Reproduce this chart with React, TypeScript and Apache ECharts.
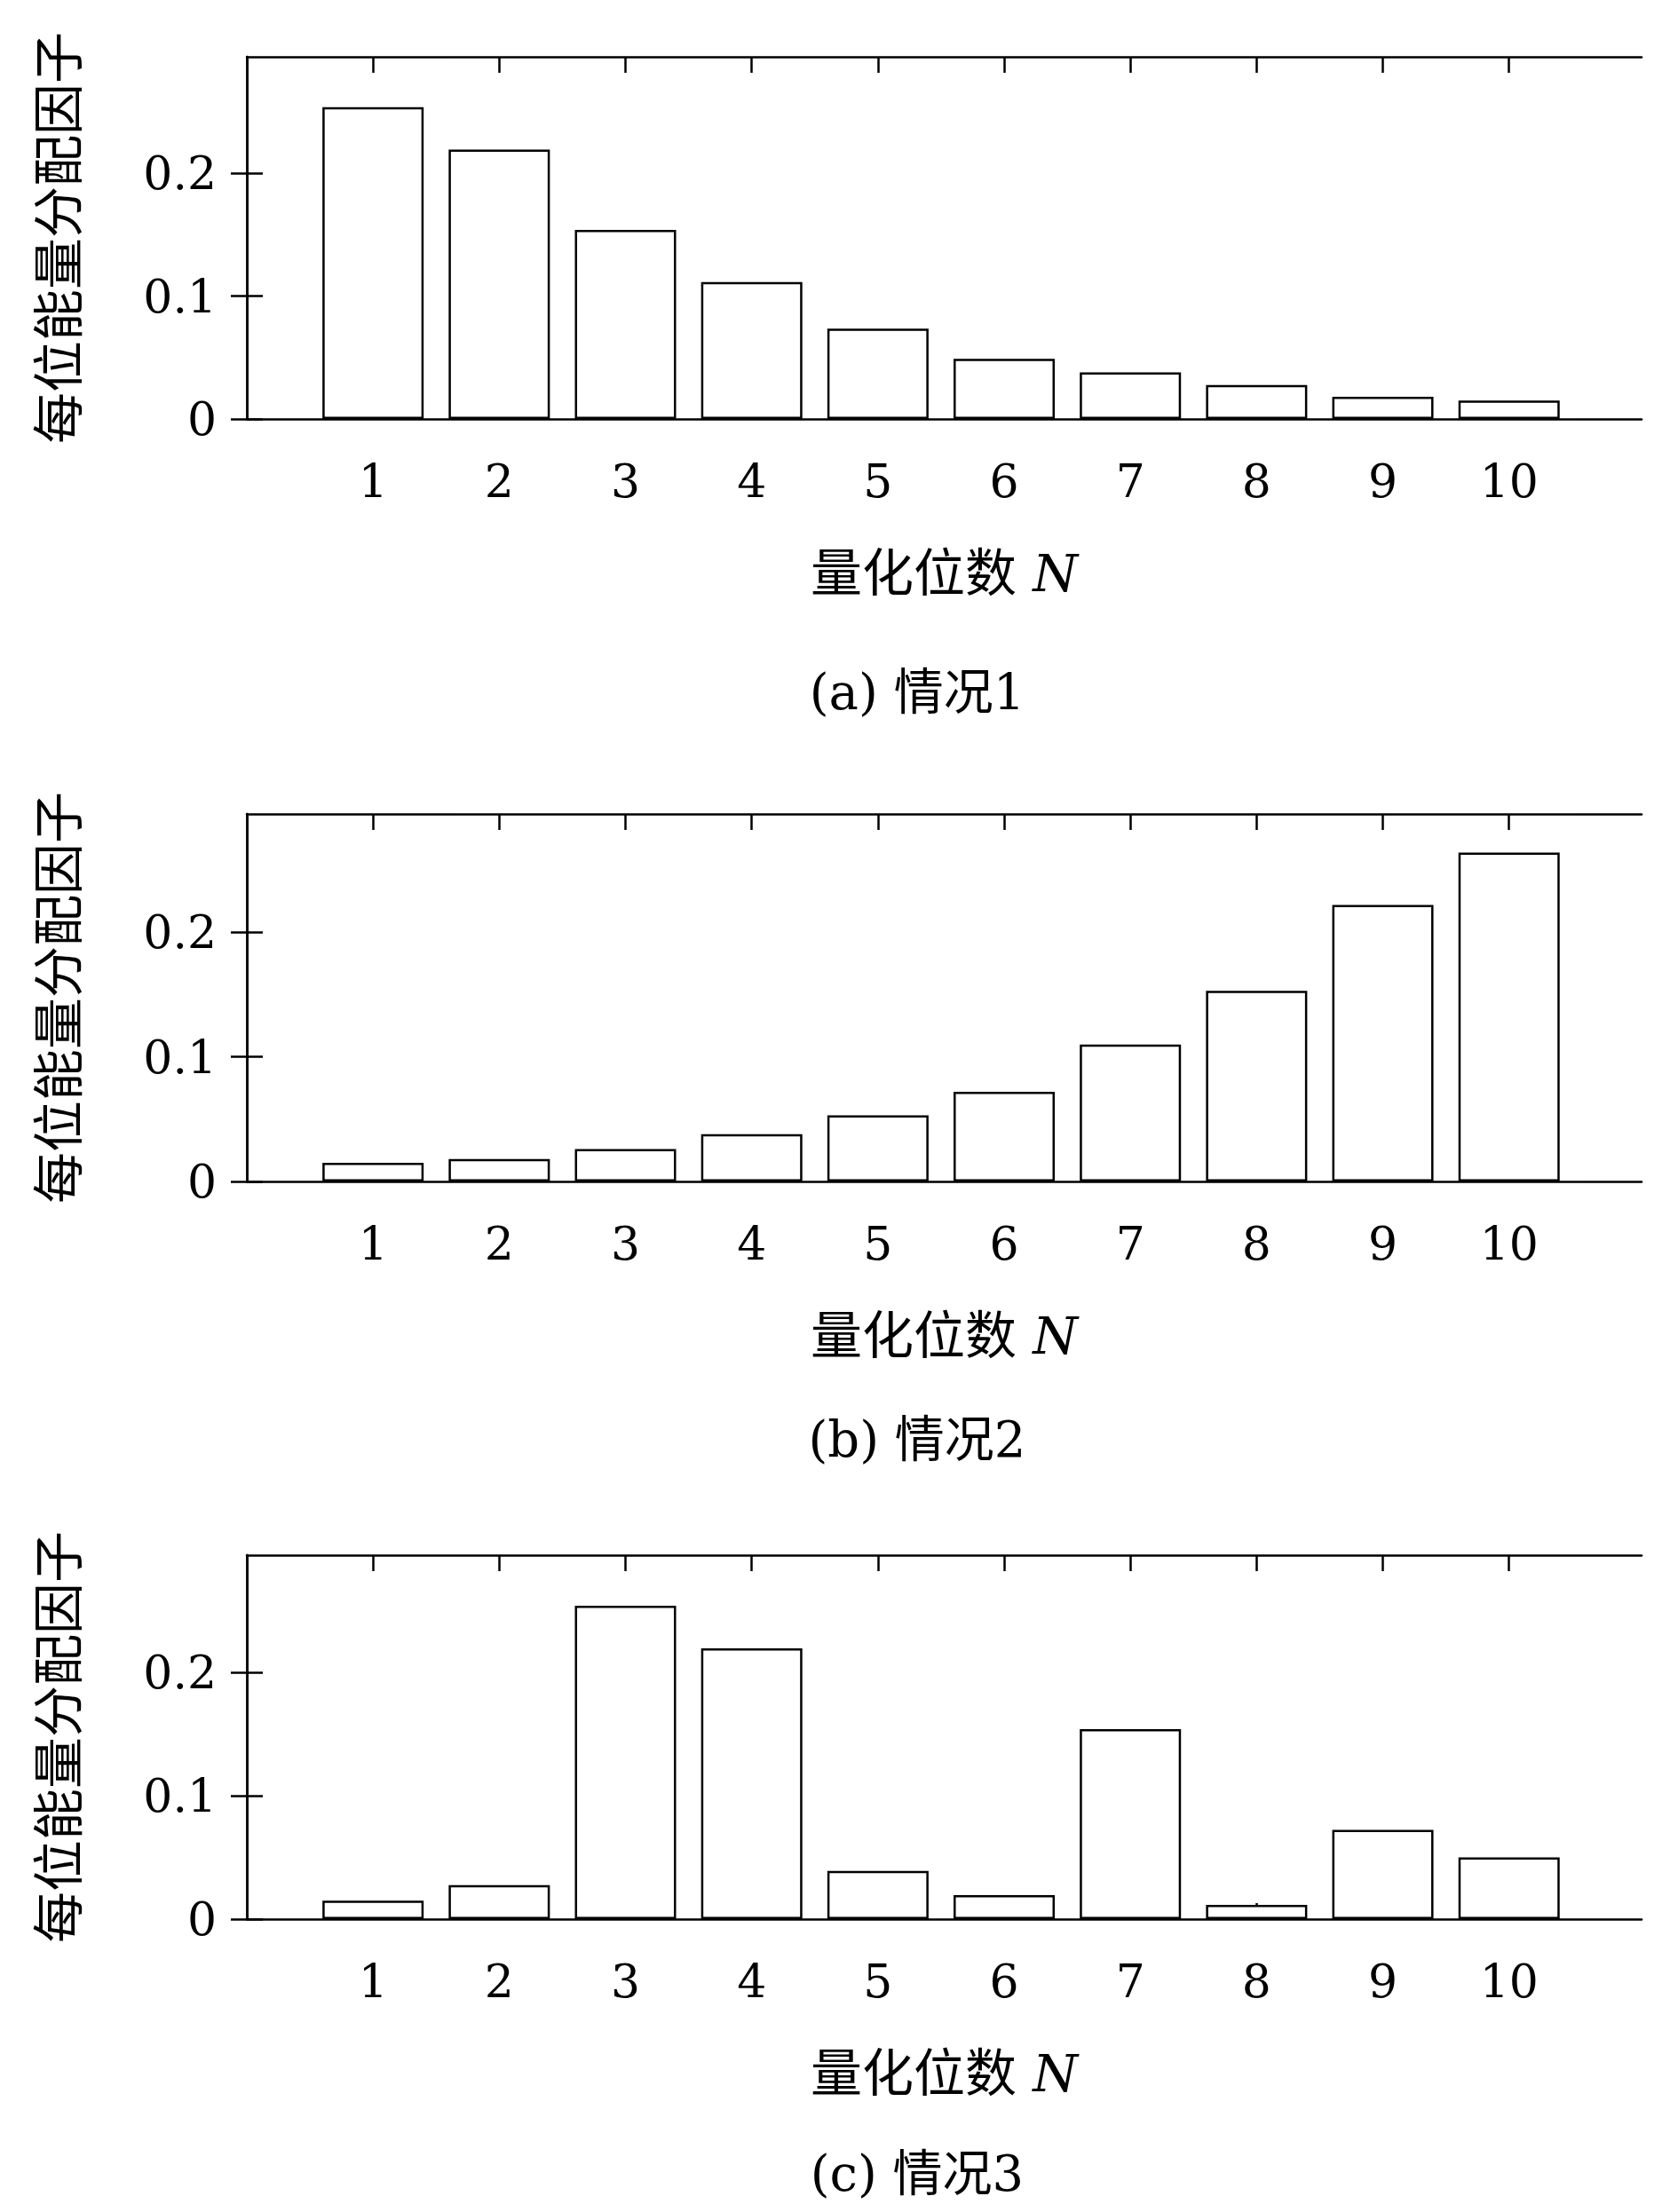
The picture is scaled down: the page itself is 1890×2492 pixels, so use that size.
import { useEffect, useRef } from 'react';
import * as echarts from 'echarts';

const positions = [1, 2, 3, 4, 5, 6, 7, 8, 9, 10];
const case1 = [0.254, 0.2195, 0.154, 0.1115, 0.0736, 0.049, 0.038, 0.0276, 0.018, 0.015];
const case2 = [0.015, 0.018, 0.026, 0.038, 0.053, 0.072, 0.11, 0.153, 0.222, 0.264];
const case3 = [0.015, 0.0276, 0.254, 0.2195, 0.039, 0.0195, 0.154, 0.0115, 0.0724, 0.05];
const captions = ['(a) 情况1', '(b) 情况2', '(c) 情况3'];
const yTicks = [0, 0.1, 0.2];

const SERIF = '"DejaVu Serif", "Liberation Serif", "Noto Sans CJK SC", serif';

export default function App() {
  const ref = useRef<HTMLDivElement>(null);

  useEffect(() => {
    if (!ref.current) return;
    const chart = echarts.init(ref.current, null, { renderer: 'svg' });

    const panels = [
      { data: case1, top: 64, bottom: 472, cap: 779 },
      { data: case2, top: 917, bottom: 1331, cap: 1621 },
      { data: case3, top: 1752, bottom: 2162, cap: 2448 },
    ];
    const H = 2492;
    const line = { lineStyle: { color: '#000', width: 2.5 } };
    const tick = { show: true, inside: true, length: 18, lineStyle: { color: '#000', width: 2.5 } };

    const grid: any[] = [];
    const xAxis: any[] = [];
    const yAxis: any[] = [];
    const series: any[] = [];

    panels.forEach((p, i) => {
      grid.push({ left: 278, right: 41, top: p.top, bottom: H - p.bottom });
      const xBase = {
        type: 'value', gridIndex: i, min: 0, max: 11.05, interval: 1,
        axisLine: { show: true, onZero: false, ...line },
        axisTick: { ...tick, customValues: positions }, splitLine: { show: false },
      };
      xAxis.push({
        ...xBase, position: 'bottom',
        axisLabel: {
          margin: 44, fontSize: 52, color: '#000', fontFamily: SERIF,
          customValues: positions,
          formatter: (v: number) => String(Math.round(v)),
        },
        name: '量化位数 {i|N}', nameLocation: 'middle', nameGap: 145,
        nameTextStyle: {
          fontSize: 58, color: '#000', fontFamily: SERIF,
          rich: { i: { fontStyle: 'italic', fontSize: 58, fontFamily: SERIF, color: '#000' } },
        },
      });
      xAxis.push({ ...xBase, position: 'top', axisLabel: { show: false } });
      const yBase = {
        type: 'value', gridIndex: i, min: 0, max: 0.295, interval: 0.1,
        axisLine: { show: true, ...line },
        axisTick: { ...tick, customValues: yTicks }, splitLine: { show: false },
      };
      yAxis.push({
        ...yBase, position: 'left',
        axisLabel: {
          margin: 34, fontSize: 52, color: '#000', fontFamily: SERIF,
          customValues: yTicks,
          formatter: (v: number) => (v === 0 ? '0' : v.toFixed(1)),
        },
        name: '每位能量分配因子', nameLocation: 'middle', nameGap: 182, nameRotate: 90,
        nameTextStyle: { fontSize: 58, color: '#000', fontFamily: SERIF },
      });
      yAxis.push({ ...yBase, position: 'right', axisLabel: { show: false } });
      series.push({
        type: 'bar', xAxisIndex: i * 2, yAxisIndex: i * 2, barWidth: 114,
        data: p.data.map((v, k) => [positions[k], v]),
        itemStyle: { color: '#fff', borderColor: '#000', borderWidth: 2.5 },
      });
    });

    chart.setOption({
      animation: false,
      backgroundColor: '#fff',
      grid, xAxis, yAxis, series,
      graphic: panels.map((p, i) => ({
        type: 'text', x: 1033, y: p.cap,
        style: {
          text: captions[i], fontSize: 56, fill: '#000', fontFamily: SERIF,
          textAlign: 'center', textVerticalAlign: 'middle',
        },
      })),
    });

    return () => chart.dispose();
  }, []);

  return <div ref={ref} style={{ width: 1890, height: 2492, margin: -8 }} />;
}
